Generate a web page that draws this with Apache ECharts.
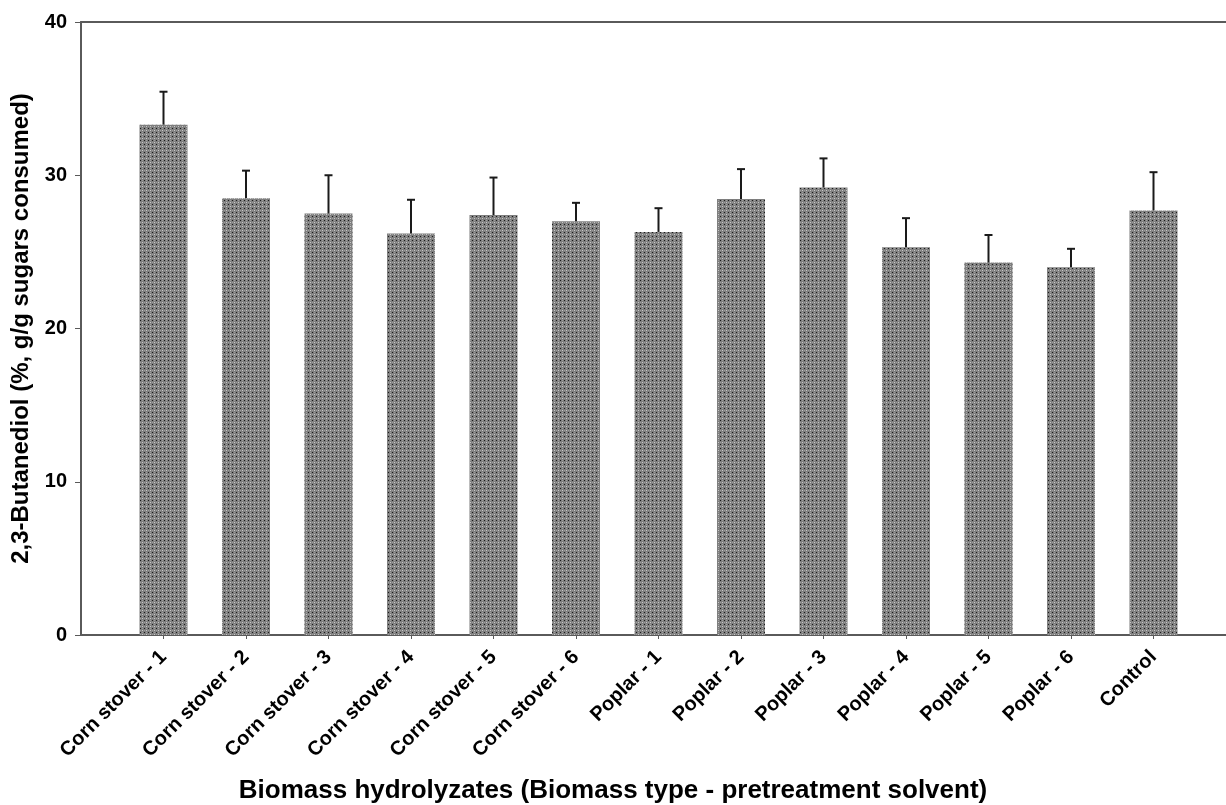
<!DOCTYPE html>
<html>
<head>
<meta charset="utf-8">
<script src="https://cdn.jsdelivr.net/npm/echarts@6/dist/echarts.min.js"></script>
<style>
  html, body { margin: 0; padding: 0; background: #fff; }
  #chart { width: 1226px; height: 805px; }
</style>
</head>
<body>
<div id="chart"></div>
<script>
const categories = [
  'Corn stover - 1', 'Corn stover - 2', 'Corn stover - 3', 'Corn stover - 4',
  'Corn stover - 5', 'Corn stover - 6', 'Poplar - 1', 'Poplar - 2',
  'Poplar - 3', 'Poplar - 4', 'Poplar - 5', 'Poplar - 6', 'Control'
];
const yields = [33.3, 28.5, 27.5, 26.2, 27.4, 27.0, 26.3, 28.45, 29.2, 25.3, 24.3, 24.0, 27.7];
const errors = [2.15, 1.8, 2.5, 2.2, 2.45, 1.2, 1.55, 1.95, 1.9, 1.9, 1.8, 1.2, 2.5];
const yTicks = [0, 10, 20, 30, 40];

const font = '"Liberation Sans", Arial, sans-serif';

// dotted grey fill like the original bars
const tile = document.createElement('canvas');
tile.width = 4; tile.height = 4;
const tctx = tile.getContext('2d');
tctx.fillStyle = '#7e7e7e';
tctx.fillRect(0, 0, 4, 4);
tctx.fillStyle = '#1a1a1a';
tctx.fillRect(0, 0, 1, 1);
tctx.fillStyle = '#c8c8c8';
tctx.fillRect(2, 2, 1, 1);
tctx.fillStyle = '#9c9c9c';
tctx.fillRect(2, 0, 1, 1);
tctx.fillRect(0, 2, 1, 1);

// blank slots on both ends so the bars sit where they do in the figure
const xData = [''].concat(categories, [' ']);
const barData = [null].concat(yields, [null]);
const errData = yields.map((v, i) => [i + 1, v, v + errors[i]]);

const chart = echarts.init(document.getElementById('chart'));

chart.setOption({
  backgroundColor: '#ffffff',
  animation: false,
  title: {
    text: 'Biomass hydrolyzates (Biomass type - pretreatment solvent)',
    left: 'center',
    top: 773,
    textStyle: { fontFamily: font, fontSize: 26, fontWeight: 'bold', color: '#000' }
  },
  grid: {
    left: 81, top: 22, width: 1155, bottom: 170,
    containLabel: false,
    outerBoundsMode: 'none'
  },
  xAxis: [
    {
      type: 'category',
      data: xData,
      boundaryGap: false,
      axisLine: { lineStyle: { color: '#5a5a5a', width: 2 } },
      axisTick: {
        length: 4,
        lineStyle: { color: '#5a5a5a', width: 1 },
        interval: (idx, val) => val.trim() !== ''
      },
      axisLabel: {
        rotate: 45,
        margin: 19,
        interval: 0,
        fontFamily: font,
        fontSize: 20,
        fontWeight: 'bold',
        color: '#000'
      }
    },
    {
      type: 'category',
      data: xData,
      position: 'top',
      boundaryGap: false,
      axisLine: { lineStyle: { color: '#5a5a5a', width: 2 } },
      axisTick: { show: false },
      axisLabel: { show: false }
    }
  ],
  yAxis: {
    type: 'value',
    min: 0,
    max: 40,
    interval: 10,
    name: '2,3-Butanediol (%, g/g sugars consumed)',
    nameLocation: 'middle',
    nameGap: 42,
    nameTextStyle: { fontFamily: font, fontSize: 24, fontWeight: 'bold', color: '#000' },
    axisLine: { show: true, lineStyle: { color: '#5a5a5a', width: 2 } },
    axisTick: { show: true, length: 6, lineStyle: { color: '#5a5a5a', width: 1 } },
    splitLine: { show: false },
    axisLabel: {
      margin: 14,
      fontFamily: font,
      fontSize: 20,
      fontWeight: 'bold',
      color: '#000',
      formatter: v => (yTicks.includes(v) ? String(v) : '')
    }
  },
  series: [
    {
      type: 'bar',
      data: barData,
      barWidth: 48,
      itemStyle: { color: { image: tile, repeat: 'repeat' } }
    },
    {
      type: 'custom',
      data: errData,
      encode: { x: 0, y: [1, 2] },
      z: 5,
      renderItem: function (params, api) {
        const base = api.coord([api.value(0), api.value(1)]);
        const top = api.coord([api.value(0), api.value(2)]);
        const cap = 4;
        const style = { stroke: '#1a1a1a', lineWidth: 2 };
        return {
          type: 'group',
          children: [
            { type: 'line', shape: { x1: base[0], y1: base[1], x2: top[0], y2: top[1] }, style },
            { type: 'line', shape: { x1: top[0] - cap, y1: top[1], x2: top[0] + cap, y2: top[1] }, style }
          ]
        };
      }
    }
  ]
});
</script>
</body>
</html>
